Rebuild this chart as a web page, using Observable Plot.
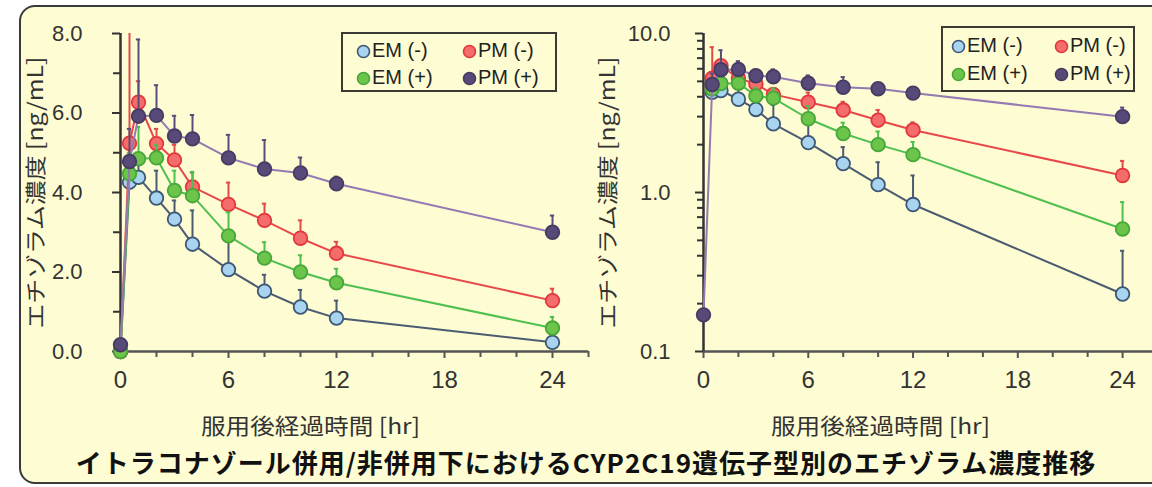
<!DOCTYPE html>
<html>
<head>
<meta charset="utf-8">
<script src="https://cdn.jsdelivr.net/npm/d3@7"></script>
<script src="https://cdn.jsdelivr.net/npm/@observablehq/plot@0.6"></script>
<style>
  html, body { margin: 0; padding: 0; background: #ffffff; }
  #page { position: relative; width: 1152px; height: 487px; overflow: hidden; background: #ffffff; }
  #frame { position: absolute; left: 19px; top: 5px; width: 1170px; height: 475px; border: 2px solid #3a3a3a; border-radius: 16px; background: #fdfcd2; }
  .panel { position: absolute; top: 0; width: 590px; height: 487px; }
  .panel svg { max-width: none !important; }
  .legend { position: absolute; border: 2px solid #3a3a33; background: #fdfcd2; font-family: "Liberation Sans", Arial, sans-serif; font-size: 20px; color: #222; }
  .legend .item { position: absolute; white-space: nowrap; line-height: 20px; }
  .legend svg { vertical-align: -2px; margin-right: 1px; }
  #title { position: absolute; left: 0; width: 1172px; top: 447px; text-align: center; font-family: "Noto Sans CJK JP", sans-serif; font-weight: bold; font-size: 26px; letter-spacing: 1px; color: #111; line-height: 30px; white-space: nowrap; }
</style>
</head>
<body>
<div id="page">
  <div id="frame"></div>
  <div id="left" class="panel" style="left:0px"></div>
  <div id="right" class="panel" style="left:590px"></div>
  <div id="title"></div>
</div>
<script>
// ---- data ----
const times = [0, 0.5, 1, 2, 3, 4, 6, 8, 10, 12, 24];
const seriesNames = ["EM (-)", "PM (-)", "EM (+)", "PM (+)"];
const emMinus      = [0,    4.26, 4.38, 3.86, 3.33, 2.70, 2.06, 1.52, 1.12, 0.84, 0.23];
const emMinusUpper = [null, 4.60, 4.70, 4.55, 3.80, 3.55, 2.90, 1.93, 1.55, 1.28, 0.43];
const pmMinus      = [0,    5.24, 6.27, 5.23, 4.82, 4.14, 3.70, 3.30, 2.85, 2.47, 1.28];
const pmMinusUpper = [null, 8.20, 6.80, 5.60, 5.20, 4.50, 4.25, 3.72, 3.30, 2.76, 1.58];
const emPlus       = [0,    4.47, 4.85, 4.87, 4.05, 3.92, 2.91, 2.35, 2.00, 1.73, 0.59];
const emPlusUpper  = [null, 5.00, 5.65, 5.20, 4.55, 4.52, 3.50, 2.75, 2.42, 2.08, 0.87];
const pmPlus       = [0.17, 4.78, 5.92, 5.94, 5.42, 5.35, 4.87, 4.59, 4.49, 4.22, 3.00];
const pmPlusUpper  = [null, 5.60, 7.85, 6.70, 5.93, 5.95, 5.45, 5.32, 4.88, 4.40, 3.42];

const xMajorTicks = [0, 6, 12, 18, 24];
const xMinorTicks = [2, 4, 8, 10, 14, 16, 20, 22, 26];
const yLinTicks = [0, 2, 4, 6, 8];
const yLinMinor = [1, 3, 5, 7];
const yLogTicks = [0.1, 1, 10];
const yLogMinor = [0.2,0.3,0.4,0.5,0.6,0.7,0.8,0.9,2,3,4,5,6,7,8,9];

const xLabel = "服用後経過時間 [hr]";
const yLabel = "エチゾラム濃度 [ng/mL]";
const titleText = "イトラコナゾール併用/非併用下におけるCYP2C19遺伝子型別のエチゾラム濃度推移";

// ---- styles ----
const styles = [
  {line: "#4b5b72", fill: "#a8d4ef", stroke: "#3d5675", err: "#4b5b72"},
  {line: "#e8484a", fill: "#f46c6c", stroke: "#e2383b", err: "#e24a4a"},
  {line: "#4fbf4f", fill: "#6cc44a", stroke: "#46a838", err: "#4fbf4f"},
  {line: "#9479b2", fill: "#574a78", stroke: "#463b63", err: "#5a4c7a"}
];
const values = [emMinus, pmMinus, emPlus, pmPlus];
const uppers = [emMinusUpper, pmMinusUpper, emPlusUpper, pmPlusUpper];

const rows = seriesNames.map((name, i) =>
  times.map((t, j) => ({series: name, t, v: values[i][j], up: uppers[i][j]}))
);

const fontTick = "Liberation Sans, Arial, sans-serif";
const fontJP = "Noto Sans CJK JP, sans-serif";

function panel(log) {
  const yOpt = log ? {type: "log", domain: [0.1, 10]} : {domain: [0, 8]};
  const marks = [];
  marks.push(Plot.axisX({ticks: xMajorTicks, tickSize: 7, tickPadding: 12, fontSize: 24, fontFamily: fontTick, fill: "#333", stroke: "#555", strokeWidth: 2, label: null}));
  marks.push(Plot.axisX({ticks: xMinorTicks, tickSize: 6, tickFormat: () => "", stroke: "#555", strokeWidth: 2, label: null}));
  marks.push(Plot.axisX({ticks: [], tickSize: 0, label: xLabel, labelAnchor: "center", labelArrow: "none", labelOffset: 82, fontSize: 22, fontFamily: fontJP, fill: "#333"}));
  marks.push(Plot.axisY({ticks: log ? yLogTicks : yLinTicks, tickSize: 8, tickPadding: log ? 25 : 30, tickFormat: d3.format(".1f"), fontSize: 22, fontFamily: fontTick, fill: "#333", stroke: "#333", strokeWidth: 2, label: null}));
  marks.push(Plot.axisY({ticks: log ? yLogMinor : yLinMinor, tickSize: log ? 6 : 7, tickFormat: () => "", stroke: "#333", strokeWidth: 2, label: null}));
  marks.push(Plot.axisY({ticks: [], tickSize: 0, label: yLabel, labelAnchor: "center", labelArrow: "none", labelOffset: log ? 103 : 92, fontSize: 21, fontFamily: fontJP, fill: "#333"}));
  marks.push(Plot.ruleY([log ? 0.1 : 0], {stroke: "#555", strokeWidth: 2.5}));
  marks.push(Plot.ruleX([0], {stroke: "#333", strokeWidth: 2.5}));
  rows.forEach((data, i) => {
    const s = styles[i];
    const d = log ? data.filter(r => r.v > 0) : data;
    const e = d.filter(r => r.up != null);
    marks.push(Plot.ruleX(e, {x: "t", y1: "v", y2: "up", stroke: s.err, strokeWidth: 2, clip: true}));
    marks.push(Plot.ruleY(e, {y: "up", x1: r => r.t - 0.12, x2: r => r.t + 0.12, stroke: s.err, strokeWidth: 2, clip: true}));
    marks.push(Plot.line(d, {x: "t", y: "v", stroke: s.line, strokeWidth: 2}));
    marks.push(Plot.dot(d, {x: "t", y: "v", r: 6.8, fill: s.fill, stroke: s.stroke, strokeWidth: 1.8}));
  });
  const svg = Plot.plot({
    width: 590, height: 487,
    marginTop: 33, marginBottom: 136,
    marginLeft: log ? 113 : 120, marginRight: log ? 23 : 2,
    x: {domain: [0, 26]},
    y: yOpt,
    style: {background: "transparent", overflow: "visible", color: "#333", maxWidth: "none"},
    marks
  });
  // stretch axis titles to the reference's wider lettering, and centre the x title under 0–24
  svg.querySelectorAll('[aria-label="x-axis label"]').forEach(g => {
    const prev = g.getAttribute("transform") || "";
    g.setAttribute("transform", `translate(${log ? -50 : -44},0) ${prev}`);
    g.querySelectorAll("text").forEach(t => {
      t.setAttribute("textLength", 219); t.setAttribute("lengthAdjust", "spacingAndGlyphs");
    });
  });
  svg.querySelectorAll('[aria-label="y-axis label"] text').forEach(t => {
    t.setAttribute("textLength", 272); t.setAttribute("lengthAdjust", "spacingAndGlyphs");
  });
  return svg;
}

document.getElementById("left").appendChild(panel(false));
document.getElementById("right").appendChild(panel(true));

function legend(box, cols, rowsY) {
  const div = document.createElement("div");
  div.className = "legend";
  Object.assign(div.style, {left: box.x + "px", top: box.y + "px", width: box.w + "px", height: box.h + "px"});
  [0, 1, 2, 3].forEach(i => {
    const item = document.createElement("div");
    item.className = "item";
    item.style.left = cols[i % 2] + "px";
    item.style.top = rowsY[Math.floor(i / 2)] + "px";
    const s = styles[i];
    item.innerHTML = `<svg width="15" height="15"><circle cx="7.5" cy="7.5" r="6" fill="${s.fill}" stroke="${s.stroke}" stroke-width="1.6"></circle></svg>${seriesNames[i]}`;
    div.appendChild(item);
  });
  document.getElementById("page").appendChild(div);
}
legend({x: 341, y: 32, w: 212, h: 56}, [13, 119], [6, 33]);
legend({x: 941, y: 26, w: 190, h: 62}, [8, 111], [7, 35]);

document.getElementById("title").textContent = titleText;
</script>
</body>
</html>
